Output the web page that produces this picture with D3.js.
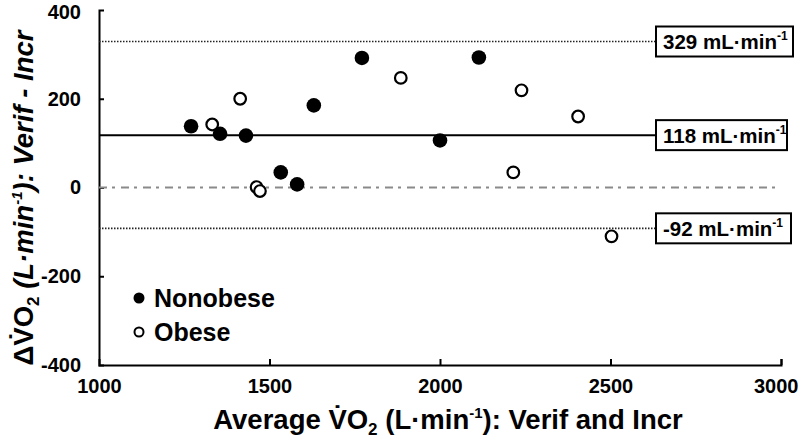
<!DOCTYPE html>
<html><head><meta charset="utf-8">
<script src="https://cdn.jsdelivr.net/npm/d3@7"></script>
<style>
html,body{margin:0;padding:0;background:#fff;}
svg{display:block;font-family:"Liberation Sans",Arial,sans-serif;font-weight:bold;}
</style></head>
<body>
<svg id="chart" width="800" height="441"></svg>
<script>
// ---- data ----
const nonobeseX = [1270, 1355, 1431, 1630, 1533, 1581, 1771, 2000, 2114];
const nonobeseY = [138, 121, 117, 185, 34, 7, 292, 106, 293];
const obeseX = [1332, 1414, 1462, 1472, 1885, 2239, 2405, 2215, 2503];
const obeseY = [142, 200, 1, -8, 247, 219, 160, 34, -110];
const limitValues = [329, 118, -92];
const limitLabels = ["329", "118", "-92"];
const xTicks = [1000, 1500, 2000, 2500, 3000];
const yTicks = [-400, -200, 0, 200, 400];
const legendLabels = ["Nonobese", "Obese"];

const svg = d3.select("#chart");
const x = d3.scaleLinear().domain([1000, 3000]).range([99, 781]);
const y = d3.scaleLinear().domain([-400, 400]).range([365, 10]);

// axes
const xAxis = d3.axisBottom(x).tickValues(xTicks).tickSizeInner(-6).tickSizeOuter(-6).tickFormat(d => String(d)).tickPadding(14);
const gx = svg.append("g").attr("transform", `translate(0,${y(-400)})`).call(xAxis);
const yAxis = d3.axisLeft(y).tickValues(yTicks).tickSizeInner(-5).tickSizeOuter(-5).tickFormat(d => String(d)).tickPadding(18);
const gy = svg.append("g").attr("transform", `translate(${x(1000)},0)`).call(yAxis);
[gx, gy].forEach(g => {
  g.selectAll("path.domain").attr("stroke", "#000").attr("stroke-width", 2);
  g.selectAll(".tick line").attr("stroke", "#000").attr("stroke-width", 2);
  g.selectAll(".tick text").attr("font-size", 20).attr("font-weight", "bold")
    .attr("font-family", "'Liberation Sans',Arial,sans-serif").attr("fill", "#000");
});
gx.selectAll(".tick").filter(d => d === 1000).select("line").remove();
gx.selectAll(".tick").filter(d => d === 3000).select("text").attr("text-anchor", "end").attr("x", 17);
gy.selectAll(".tick").filter(d => d === -400 || d === 400).select("line").remove();
gy.selectAll(".tick").filter(d => d === 400).select("text").attr("dy", "0.42em");

// reference lines
const boxLeft = 656;
svg.append("line").attr("x1", x(1000)).attr("x2", 778).attr("y1", y(0)).attr("y2", y(0))
  .attr("stroke", "#8a8a8a").attr("stroke-width", 2).attr("stroke-dasharray", "8,5,3,6");
svg.append("line").attr("x1", x(1000)).attr("x2", boxLeft).attr("y1", y(limitValues[0])).attr("y2", y(limitValues[0]))
  .attr("stroke", "#222").attr("stroke-width", 1.6).attr("stroke-dasharray", "1.5,1.5");
svg.append("line").attr("x1", x(1000)).attr("x2", boxLeft).attr("y1", y(limitValues[1])).attr("y2", y(limitValues[1]))
  .attr("stroke", "#000").attr("stroke-width", 2);
svg.append("line").attr("x1", x(1000)).attr("x2", boxLeft).attr("y1", y(limitValues[2])).attr("y2", y(limitValues[2]))
  .attr("stroke", "#222").attr("stroke-width", 1.6).attr("stroke-dasharray", "1.5,1.5");

// boxes
const boxW = [137, 131, 135];
limitValues.forEach((v, i) => {
  const cy = y(v);
  svg.append("rect").attr("x", boxLeft).attr("y", cy - 15).attr("width", boxW[i]).attr("height", 30)
    .attr("fill", "#fff").attr("stroke", "#000").attr("stroke-width", 2);
  const t = svg.append("text").attr("x", boxLeft + 7).attr("y", cy + 7.5).attr("font-size", 20.5).attr("font-weight", "bold");
  t.append("tspan").text(limitLabels[i] + " mL\u00B7min");
  t.append("tspan").attr("font-size", 12).attr("dy", -9).text("-1");
});

// points
const nonobese = nonobeseX.map((d, i) => ({x: d, y: nonobeseY[i]}));
const obese = obeseX.map((d, i) => ({x: d, y: obeseY[i]}));
svg.append("g").selectAll("circle").data(obese).join("circle")
  .attr("cx", d => x(d.x)).attr("cy", d => y(d.y)).attr("r", 5.8)
  .attr("fill", "#fff").attr("stroke", "#000").attr("stroke-width", 2.2);
svg.append("g").selectAll("circle").data(nonobese).join("circle")
  .attr("cx", d => x(d.x)).attr("cy", d => y(d.y)).attr("r", 7.3)
  .attr("fill", "#000");

// legend
const lg = svg.append("g");
lg.append("circle").attr("cx", 139).attr("cy", 298).attr("r", 5.5).attr("fill", "#000");
lg.append("circle").attr("cx", 139).attr("cy", 332).attr("r", 4.5).attr("fill", "#fff").attr("stroke", "#000").attr("stroke-width", 2);
lg.append("text").attr("x", 154).attr("y", 307).attr("font-size", 25).text(legendLabels[0]);
lg.append("text").attr("x", 154).attr("y", 341).attr("font-size", 25).text(legendLabels[1]);

// x title
const xt = svg.append("text").attr("x", 448).attr("y", 429).attr("text-anchor", "middle").attr("font-size", 27.5);
xt.append("tspan").text("Average V\u0307O");
xt.append("tspan").attr("font-size", 17).attr("dy", 6).text("2");
xt.append("tspan").attr("dy", -6).text(" (L\u00B7min");
xt.append("tspan").attr("font-size", 15).attr("dy", -11).text("-1");
xt.append("tspan").attr("dy", 11).text("): Verif and Incr");

// y title
const yt = svg.append("text").attr("transform", `translate(33,${198}) rotate(-90)`).attr("text-anchor", "middle").attr("font-size", 27.5);
yt.append("tspan").text("\u0394V\u0307O");
yt.append("tspan").attr("font-size", 17).attr("dy", 6).text("2");
yt.append("tspan").attr("dy", -6).attr("font-style", "italic").text(" (L\u00B7min");
yt.append("tspan").attr("font-size", 15).attr("dy", -11).attr("font-style", "italic").text("-1");
yt.append("tspan").attr("dy", 11).attr("font-style", "italic").text("): Verif - Incr");
</script>
</body></html>
